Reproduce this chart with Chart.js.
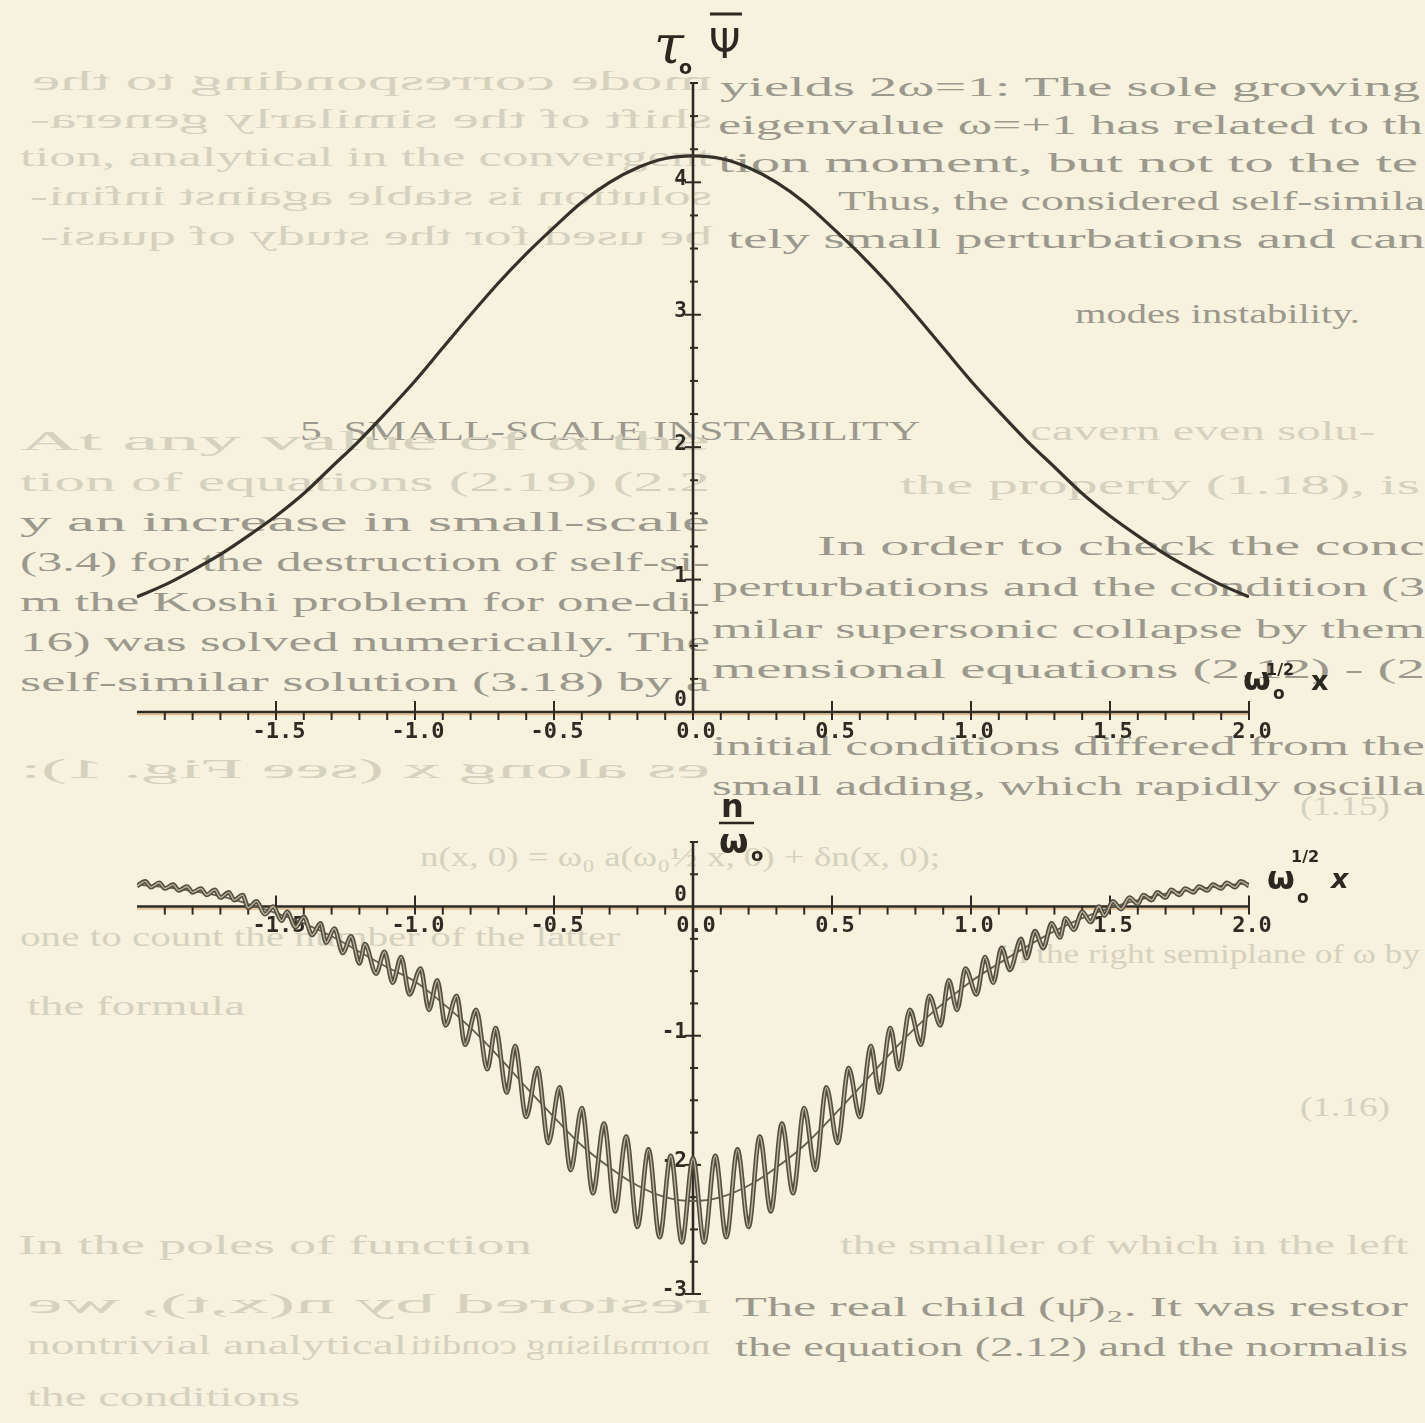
<!DOCTYPE html>
<html lang="en">
<head>
<meta charset="UTF-8">
<title>ψ̄ profile and n/ω0 after small-scale perturbation</title>
<script src="https://cdn.jsdelivr.net/npm/chart.js"></script>
<style>
  html, body { margin: 0; padding: 0; background: #f6f2dd; }
  #page { position: relative; width: 1425px; height: 1423px; overflow: hidden; background: #f6f2dd; }
  #ghost, #marks { position: absolute; left: 0; top: 0; }
  #ghost { z-index: 0; }
  #marks { z-index: 2; pointer-events: none; }
  canvas { position: absolute; left: 0; z-index: 1; }
  #psiChart { top: 0; }
  #nChart { top: 780px; }
</style>
</head>
<body>
<div id="page">
  <svg id="ghost" width="1425" height="1423"></svg>
  <canvas id="psiChart" width="1425" height="760"></canvas>
  <canvas id="nChart" width="1425" height="560"></canvas>
  <svg id="marks" width="1425" height="1423" font-family="DejaVu Sans" fill="#2b2721">
    <!-- upper plot: ordinate and abscissa names -->
    <text x="654" y="63" font-family="DejaVu Serif" font-style="italic" font-size="54">τ</text>
    <text x="679" y="74" font-size="19" font-weight="bold">o</text>
    <text x="709" y="58" font-size="40">Ψ</text>
    <line x1="710" y1="14" x2="742" y2="14" stroke="#2b2721" stroke-width="3"/>
    <text x="1243" y="690" font-size="32" font-weight="bold">ω</text>
    <text x="1273" y="699" font-size="17" font-weight="bold">o</text>
    <text x="1266" y="675" font-size="16" font-weight="bold">1/2</text>
    <text x="1311" y="690" font-size="27" font-weight="bold">x</text>
    <!-- lower plot -->
    <text x="721" y="817" font-size="32" font-weight="bold">n</text>
    <line x1="719" y1="823" x2="754" y2="823" stroke="#2b2721" stroke-width="2.6"/>
    <text x="719" y="853" font-size="34" font-weight="bold">ω</text>
    <text x="751" y="861" font-size="18" font-weight="bold">o</text>
    <text x="1267" y="889" font-size="32" font-weight="bold">ω</text>
    <text x="1297" y="903" font-size="17" font-weight="bold">o</text>
    <text x="1291" y="862" font-size="16" font-weight="bold">1/2</text>
    <text x="1331" y="888" font-size="27" font-weight="bold" font-style="italic">x</text>
  </svg>
</div>
<script>
// upper curve: tau0 * psi-bar against omega0^(1/2) x
const psiX = [-2.0, -1.9, -1.8, -1.7, -1.6, -1.5, -1.4, -1.3, -1.2, -1.1, -1.0, -0.9, -0.8, -0.7, -0.6, -0.5, -0.4, -0.3, -0.2, -0.1,
  0.0, 0.1, 0.2, 0.3, 0.4, 0.5, 0.6, 0.7, 0.8, 0.9, 1.0, 1.1, 1.2, 1.3, 1.4, 1.5, 1.6, 1.7, 1.8, 1.9, 2.0];
const psiY = [0.87, 0.96, 1.07, 1.19, 1.33, 1.48, 1.65, 1.85, 2.05, 2.27, 2.50, 2.75, 3.00, 3.24, 3.46, 3.66, 3.85, 4.00, 4.11, 4.18,
  4.20, 4.18, 4.11, 4.00, 3.85, 3.66, 3.46, 3.24, 3.00, 2.75, 2.50, 2.27, 2.05, 1.85, 1.65, 1.48, 1.33, 1.19, 1.07, 0.96, 0.87];

// lower curve: n / omega0, crests and troughs of the rapid oscillation
const nX = [-2.00, -1.97, -1.95, -1.92, -1.90, -1.87, -1.85, -1.82, -1.80, -1.77, -1.75, -1.72, -1.70, -1.67, -1.65, -1.62,
  -1.60, -1.57, -1.54, -1.51, -1.48, -1.46, -1.43, -1.40, -1.37, -1.34, -1.32, -1.29, -1.26, -1.23, -1.20, -1.18,
  -1.14, -1.11, -1.08, -1.05, -1.02, -0.98, -0.95, -0.92, -0.89, -0.85, -0.82, -0.78, -0.74, -0.71, -0.67, -0.64,
  -0.60, -0.56, -0.52, -0.48, -0.44, -0.40, -0.36, -0.32, -0.28, -0.24, -0.20, -0.16, -0.12, -0.08, -0.04,
  0.00, 0.04, 0.08, 0.12, 0.16, 0.20, 0.24, 0.28, 0.32, 0.36, 0.40, 0.44, 0.48, 0.52, 0.56, 0.60,
  0.64, 0.67, 0.71, 0.74, 0.78, 0.82, 0.85, 0.89, 0.92, 0.95, 0.98, 1.02, 1.05, 1.08, 1.11, 1.14,
  1.18, 1.20, 1.23, 1.26, 1.29, 1.32, 1.34, 1.37, 1.40, 1.43, 1.46, 1.48, 1.51, 1.54, 1.57, 1.60,
  1.62, 1.65, 1.67, 1.70, 1.72, 1.75, 1.77, 1.80, 1.82, 1.85, 1.87, 1.90, 1.92, 1.95, 1.97, 2.00];
const nY = [0.16, 0.195, 0.15, 0.185, 0.14, 0.17, 0.125, 0.155, 0.11, 0.14, 0.09, 0.13, 0.07, 0.11, 0.05, 0.09,
  -0.01, 0.04, -0.06, 0.00, -0.11, -0.04, -0.16, -0.08, -0.22, -0.13, -0.28, -0.17, -0.36, -0.23, -0.44, -0.29,
  -0.52, -0.35, -0.59, -0.39, -0.68, -0.48, -0.80, -0.57, -0.92, -0.69, -1.07, -0.80, -1.26, -0.94, -1.44, -1.08,
  -1.63, -1.25, -1.83, -1.40, -2.04, -1.56, -2.22, -1.68, -2.36, -1.78, -2.48, -1.88, -2.56, -1.93, -2.60,
  -1.95, -2.60, -1.93, -2.56, -1.88, -2.48, -1.78, -2.36, -1.68, -2.22, -1.56, -2.04, -1.40, -1.83, -1.25, -1.63,
  -1.08, -1.44, -0.94, -1.26, -0.80, -1.07, -0.69, -0.92, -0.57, -0.80, -0.48, -0.68, -0.39, -0.59, -0.32, -0.49,
  -0.25, -0.40, -0.19, -0.32, -0.13, -0.24, -0.09, -0.18, -0.04, -0.12, 0.00, -0.07, 0.04, -0.02, 0.07, 0.02,
  0.09, 0.05, 0.11, 0.07, 0.13, 0.09, 0.14, 0.11, 0.155, 0.125, 0.17, 0.14, 0.185, 0.15, 0.195, 0.16];

// smooth trace running through the middle of the oscillation
const nMeanX = psiX;
const nMeanY = [0.17, 0.15, 0.12, 0.08, 0.02, -0.05, -0.13, -0.23, -0.35, -0.47, -0.58, -0.75, -0.94, -1.16, -1.40, -1.63, -1.85, -2.02, -2.16, -2.25,
  -2.28, -2.25, -2.16, -2.02, -1.85, -1.63, -1.40, -1.16, -0.94, -0.75, -0.58, -0.44, -0.31, -0.19, -0.09, -0.01, 0.05, 0.10, 0.13, 0.16, 0.18];

// axis labelling
const xTickVals = [-1.5, -1.0, -0.5, 0.0, 0.5, 1.0, 1.5, 2.0];
const xTickLabels = ['-1.5', '-1.0', '-0.5', '0.0', '0.5', '1.0', '1.5', '2.0'];
const psiYTickVals = [0, 1, 2, 3, 4];
const psiYTickLabels = ['0', '1', '2', '3', '4'];
const nYTickVals = [0, -1, -2, -3];
const nYTickLabels = ['0', '-1', '-2', '-3'];

const INK = '#2f2a23';

// text of the printed page that shows through behind the figure
// [x, baseline, width, text, tone, mirrored]
const ghostLines = [
  [32, 90, 680, 'mode corresponding to the', 'light', true],
  [720, 96, 700, 'yields 2ω=1: The sole growing', 'mid', false],
  [30, 128, 682, 'shift of the similarly genera-', 'light', true],
  [718, 134, 705, 'eigenvalue ω=+1 has related to th', 'mid', false],
  [20, 166, 692, 'tion, analytical in the convergent', 'light', false],
  [718, 172, 700, 'tion moment, but not to the te', 'mid', false],
  [30, 205, 682, 'solution is stable against infini-', 'light', true],
  [838, 210, 587, 'Thus, the considered self-simila', 'mid', false],
  [40, 245, 672, 'be used for the study of quasi-', 'light', true],
  [728, 248, 697, 'tely small perturbations and can', 'mid', false],
  [1075, 323, 285, 'modes instability.', 'mid', false],
  [300, 440, 620, '5. SMALL-SCALE INSTABILITY', 'mid', false],
  [20, 450, 690, 'At any value of α the', 'light', false],
  [1030, 440, 345, 'cavern even solu-', 'light', false],
  [20, 491, 690, 'tion of equations (2.19) (2.2', 'light', false],
  [900, 494, 520, 'the property (1.18), is', 'light', false],
  [20, 531, 690, 'y an increase in small-scale', 'mid', false],
  [817, 555, 608, 'In order to check the conc', 'mid', false],
  [20, 571, 690, '(3.4) for the destruction of self-si-', 'mid', false],
  [712, 596, 713, 'perturbations and the condition (3', 'mid', false],
  [20, 611, 690, 'm the Koshi problem for one-di-', 'mid', false],
  [712, 638, 713, 'milar supersonic collapse by them', 'mid', false],
  [20, 651, 690, '16) was solved numerically. The', 'mid', false],
  [712, 678, 713, 'mensional equations (2.12) - (2', 'mid', false],
  [20, 691, 690, 'self-similar solution (3.18) by a', 'mid', false],
  [712, 755, 713, 'initial conditions differed from the', 'mid', false],
  [20, 778, 690, 'es along x (see Fig. 1):', 'light', true],
  [712, 795, 713, 'small adding, which rapidly oscilla', 'mid', false],
  [1300, 815, 90, '(1.15)', 'light', false],
  [420, 866, 520, 'n(x, 0) = ω₀ a(ω₀½ x, 0) + δn(x, 0);', 'light', false],
  [20, 946, 600, 'one to count the number of the latter', 'light', false],
  [1000, 963, 420, 'in the right semiplane of ω by', 'light', false],
  [27, 1015, 218, 'the formula', 'light', false],
  [1300, 1116, 90, '(1.16)', 'light', false],
  [18, 1254, 514, 'In the poles of function', 'light', false],
  [840, 1254, 568, 'the smaller of which in the left', 'light', false],
  [27, 1313, 685, 'restored by n(x,t), we', 'light', true],
  [735, 1316, 673, 'The real child (ψ̄)₂. It was restor', 'mid', false],
  [27, 1354, 380, 'nontrivial analytical', 'light', false],
  [410, 1354, 300, 'normalising conditi', 'light', true],
  [735, 1356, 673, 'the equation (2.12) and the normalis', 'mid', false],
  [27, 1406, 273, 'the conditions', 'light', false]
];

const svgNS = 'http://www.w3.org/2000/svg';
const ghost = document.getElementById('ghost');
ghostLines.forEach(([x, y, w, txt, tone, mirrored]) => {
  const t = document.createElementNS(svgNS, 'text');
  t.textContent = txt;
  t.setAttribute('y', y);
  t.setAttribute('textLength', w);
  t.setAttribute('lengthAdjust', 'spacingAndGlyphs');
  t.setAttribute('font-family', 'Liberation Serif');
  t.setAttribute('font-size', 28);
  t.setAttribute('fill', tone === 'mid' ? '#9b988e' : '#d5d1bf');
  if (mirrored) {
    t.setAttribute('x', 0);
    t.setAttribute('transform', `translate(${x + w},0) scale(-1,1)`);
  } else {
    t.setAttribute('x', x);
  }
  ghost.appendChild(t);
});

// axes through the origin with hanging tenth ticks, as on the plotter output
const paperAxes = {
  id: 'paperAxes',
  beforeDatasetsDraw(chart, args, o) {
    const { ctx } = chart;
    const sx = chart.scales.x, sy = chart.scales.y;
    const px = v => sx.getPixelForValue(v);
    const py = v => sy.getPixelForValue(v);
    const x0 = px(0), y0 = py(0);
    ctx.save();
    ctx.strokeStyle = 'rgba(214,146,70,0.55)';
    ctx.lineWidth = 1.6;
    ctx.beginPath(); ctx.moveTo(px(-2), y0 + 2.4); ctx.lineTo(px(2), y0 + 2.4); ctx.stroke();

    ctx.strokeStyle = INK;
    ctx.lineWidth = 2.6;
    ctx.beginPath(); ctx.moveTo(px(-2), y0); ctx.lineTo(px(2), y0); ctx.stroke();
    ctx.beginPath(); ctx.moveTo(x0, py(sy.max)); ctx.lineTo(x0, py(sy.min)); ctx.stroke();

    ctx.lineWidth = 2;
    for (let i = -19; i <= 20; i++) {
      const x = px(i / 10);
      const major = i % 5 === 0;
      ctx.beginPath();
      ctx.moveTo(x, major ? y0 - 11 : y0);
      ctx.lineTo(x, y0 + 8);
      ctx.stroke();
    }
    const k0 = Math.round(sy.min * 4), k1 = Math.round(sy.max * 4);
    for (let k = k0; k <= k1; k++) {
      if (k === 0) continue;
      const y = py(k / 4);
      const major = k % 4 === 0;
      ctx.beginPath();
      ctx.moveTo(x0 - (major ? 8 : 3), y);
      ctx.lineTo(x0 + (major ? 8 : 5), y);
      ctx.stroke();
    }

    ctx.fillStyle = INK;
    ctx.font = 'bold 22px "DejaVu Sans Mono"';
    ctx.textAlign = 'center';
    ctx.textBaseline = 'middle';
    xTickVals.forEach((v, i) => ctx.fillText(xTickLabels[i], px(v) + 3, y0 + 20));

    ctx.font = 'bold 21px "DejaVu Sans Mono"';
    ctx.textAlign = 'right';
    o.yVals.forEach((v, i) => {
      if (v === 0) {
        ctx.textBaseline = 'bottom';
        ctx.fillText(o.yLabels[i], x0 - 6, y0 - 1);
      } else {
        ctx.textBaseline = 'middle';
        ctx.fillText(o.yLabels[i], x0 - 6, py(v) - 3);
      }
    });
    ctx.restore();
  }
};

function pairs(xs, ys) {
  return xs.map((x, i) => ({ x, y: ys[i] }));
}

function plateChart(id, datasets, yMin, yMax, padding, yVals, yLabels) {
  return new Chart(document.getElementById(id), {
    type: 'scatter',
    data: { datasets },
    options: {
      responsive: false,
      animation: false,
      events: [],
      layout: { padding },
      elements: { point: { radius: 0 } },
      scales: {
        x: { type: 'linear', min: -2, max: 2, display: false },
        y: { type: 'linear', min: yMin, max: yMax, display: false }
      },
      plugins: {
        legend: { display: false },
        tooltip: { enabled: false },
        paperAxes: { yVals, yLabels }
      }
    },
    plugins: [paperAxes]
  });
}

plateChart('psiChart', [{
  data: pairs(psiX, psiY),
  showLine: true,
  borderColor: '#34302a',
  borderWidth: 3.2,
  cubicInterpolationMode: 'monotone'
}], 0, 4.75, { left: 137, right: 176, top: 83, bottom: 48 }, psiYTickVals, psiYTickLabels);

plateChart('nChart', [
  { data: pairs(nX, nY), showLine: true, borderColor: '#bcb49b', borderWidth: 1.4, cubicInterpolationMode: 'monotone', order: 0 },
  { data: pairs(nX, nY), showLine: true, borderColor: '#544d41', borderWidth: 4.6, cubicInterpolationMode: 'monotone', order: 1 },
  { data: pairs(nMeanX, nMeanY), showLine: true, borderColor: '#655e51', borderWidth: 1.8, tension: 0.4, order: 2 }
], -3, 0.5, { left: 137, right: 176, top: 62, bottom: 46 }, nYTickVals, nYTickLabels);
</script>
</body>
</html>
